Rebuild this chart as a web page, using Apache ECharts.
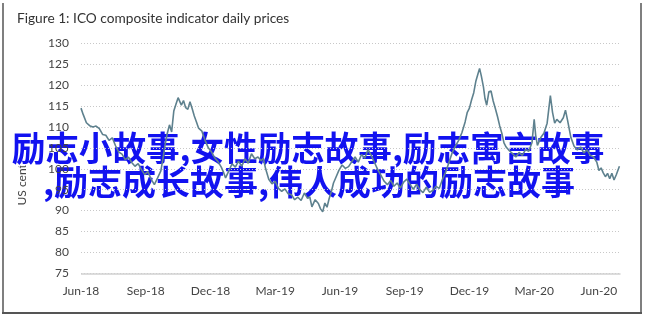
<!DOCTYPE html>
<html>
<head>
<meta charset="utf-8">
<script src="https://cdn.jsdelivr.net/npm/echarts@6/dist/echarts.min.js"></script>
<style>
html,body{margin:0;padding:0;background:#fff;}
#c{width:645px;height:318px;}
</style>
</head>
<body>
<div id="c"></div>
<script>
var titleText = 'Figure 1: ICO composite indicator daily prices';
var yAxisName = 'US cents/lb';
var tickLabels = ['Jun-18','Sep-18','Dec-18','Mar-19','Jun-19','Sep-19','Dec-19','Mar-20','Jun-20'];
var overlayLines = ['励志小故事,女性励志故事,励志寓言故事', ',励志成长故事,伟人成功的励志故事'];
// months elapsed since 1 Jun 2018
var months = [0,0.1,0.25,0.4,0.55,0.7,0.85,1.0,1.15,1.3,1.45,1.6,1.75,1.9,2.05,2.2,2.35,2.5,2.65,2.8,2.95,3.1,3.25,3.4,3.55,3.7,3.8,3.9,4.0,4.1,4.2,4.3,4.4,4.5,4.55,4.65,4.75,4.85,4.95,5.05,5.15,5.25,5.35,5.45,5.6,5.75,5.9,6.05,6.2,6.35,6.5,6.6,6.7,6.85,7.0,7.15,7.3,7.45,7.6,7.75,7.9,8.05,8.2,8.35,8.45,8.55,8.7,8.85,9.0,9.15,9.3,9.45,9.6,9.75,9.9,10.05,10.2,10.35,10.5,10.6,10.7,10.85,11.0,11.1,11.2,11.3,11.4,11.5,11.6,11.7,11.8,11.95,12.1,12.25,12.4,12.55,12.7,12.85,13.0,13.15,13.3,13.45,13.6,13.75,13.9,14.05,14.2,14.35,14.5,14.65,14.8,14.95,15.1,15.25,15.4,15.55,15.7,15.85,16.0,16.15,16.3,16.45,16.6,16.75,16.9,17.05,17.2,17.35,17.5,17.65,17.8,17.9,18.0,18.1,18.2,18.3,18.4,18.47,18.55,18.65,18.72,18.8,18.9,19.0,19.1,19.2,19.3,19.4,19.5,19.6,19.7,19.85,20.0,20.15,20.3,20.45,20.6,20.75,20.9,21.0,21.07,21.15,21.3,21.45,21.6,21.75,21.85,21.95,22.05,22.2,22.35,22.45,22.55,22.7,22.85,23.0,23.15,23.3,23.45,23.6,23.75,23.9,24.0,24.1,24.2,24.3,24.4,24.5,24.6,24.7,24.8,24.95];
var prices = [114.5,113,111,110.3,110,110.2,109.6,108.2,108,106.8,107.4,105.5,104,103.5,102.2,102.8,101.5,100.6,101.2,99.8,98.6,99.3,97.5,96.2,97.8,99.5,102.5,105.8,108.5,110.5,108.8,113.8,115.4,117,116.4,115.2,116.3,114.6,114.2,116,114.4,112.6,111.2,109.7,109,106.8,105,104,102.6,101.7,100.4,99.2,97.8,99.5,101.2,100.4,101.8,100.6,102.4,101.3,103.6,102.4,102.8,101.9,102.5,100.1,97.5,96.4,97,95.3,94.6,95.2,94,93.8,92.6,93.2,92.4,94.2,92.9,93.3,90.9,92.6,91.7,90.4,89.7,91.8,90.8,92.9,94.5,96.6,97.8,99.6,100.9,100.1,100.5,101.7,102.8,101.6,103.4,102.5,104.6,103.2,101.5,99.8,98.4,97,96.2,97.2,95.8,96.6,95.4,96.8,97.5,96.2,95.1,96.3,95,94.3,95.6,94.4,94.8,95.8,95.3,97.5,99.2,101.5,103.8,105.4,106.8,108.6,111.2,113.5,114.5,116.5,118.2,121,122.8,124,122.2,119.5,116.8,115.2,118.4,118.6,116.2,114.4,112.5,110.3,108.5,106.2,105.2,104.3,103.6,102.8,103.9,103.2,104.6,104.2,106.3,111.8,108,105.6,107.4,108.5,110.9,117.5,113.5,110.9,111.8,111,112.2,114,111.5,107.5,105.4,104.5,105.2,103.8,104.5,103.2,102.8,101.6,99.6,100.2,99,98.1,98.9,97.6,98.9,97.3,98.5,100.6];

var seriesData = months.map(function(m, i){ return [m, prices[i]]; });

var chart = echarts.init(document.getElementById('c'), null, {renderer:'canvas'});
chart.setOption({
  animation: false,
  backgroundColor: '#fff',
  title: {
    text: titleText, left: 12, top: 7,
    textStyle: {fontFamily: 'Lato', fontSize: 13.7, fontWeight: 'normal', color: '#333'}
  },
  grid: {left: 81, right: 24.5, top: 43.3, bottom: 44.7, containLabel: false},
  xAxis: {
    type: 'value', min: 0, max: 25, interval: 3,
    axisLine: {show: false},
    axisTick: {show: false},
    splitLine: {show: false},
    axisLabel: {
      margin: 12, color: '#444', fontFamily: 'Lato', fontSize: 12,
      formatter: function(v){ var k = Math.round(v/3); return (v % 3 === 0 && tickLabels[k]) ? tickLabels[k] : ''; }
    }
  },
  yAxis: {
    type: 'value', min: 75, max: 130, interval: 5,
    axisLine: {show: false},
    axisTick: {show: false},
    axisLabel: {margin: 12, color: '#444', fontFamily: 'Lato', fontSize: 12},
    splitLine: {show: true, lineStyle: {color: '#c8c8c8', type: [1,2], width: 1}}
  },
  series: [{
    type: 'line', data: seriesData, showSymbol: false, smooth: false,
    lineStyle: {color: '#5e818e', width: 1.6},
    markLine: {
      silent: true, symbol: 'none', label: {show: false},
      lineStyle: {color: '#d0d0d0', type: 'solid', width: 1.5},
      data: [{yAxis: 75}]
    }
  }],
  graphic: [
    {type: 'text', left: 16, top: 144, rotation: Math.PI/2, originX: 0, originY: 0,
     style: {text: yAxisName, fill: '#444', font: '12px Lato', textAlign: 'center', textVerticalAlign: 'middle'}},
    {type: 'text', x: 308, y: 148,
     style: {text: overlayLines[0], fill: '#1212f0', stroke: '#fff', lineWidth: 3,
             font: 'bold 33.6px "Noto Sans CJK SC"', textAlign: 'center', textVerticalAlign: 'middle'}},
    {type: 'text', x: 309, y: 182,
     style: {text: overlayLines[1], fill: '#1212f0', stroke: '#fff', lineWidth: 3,
             font: 'bold 34px "Noto Sans CJK SC"', textAlign: 'center', textVerticalAlign: 'middle'}},
    {type: 'line', shape: {x1: 3, y1: 3, x2: 3, y2: 313}, style: {stroke: '#555', lineWidth: 1.5}},
    {type: 'line', shape: {x1: 641, y1: 3, x2: 641, y2: 313}, style: {stroke: '#555', lineWidth: 1.5}},
    {type: 'line', shape: {x1: 2, y1: 313, x2: 642, y2: 313}, style: {stroke: '#555', lineWidth: 2}}
  ]
});
</script>
</body>
</html>
